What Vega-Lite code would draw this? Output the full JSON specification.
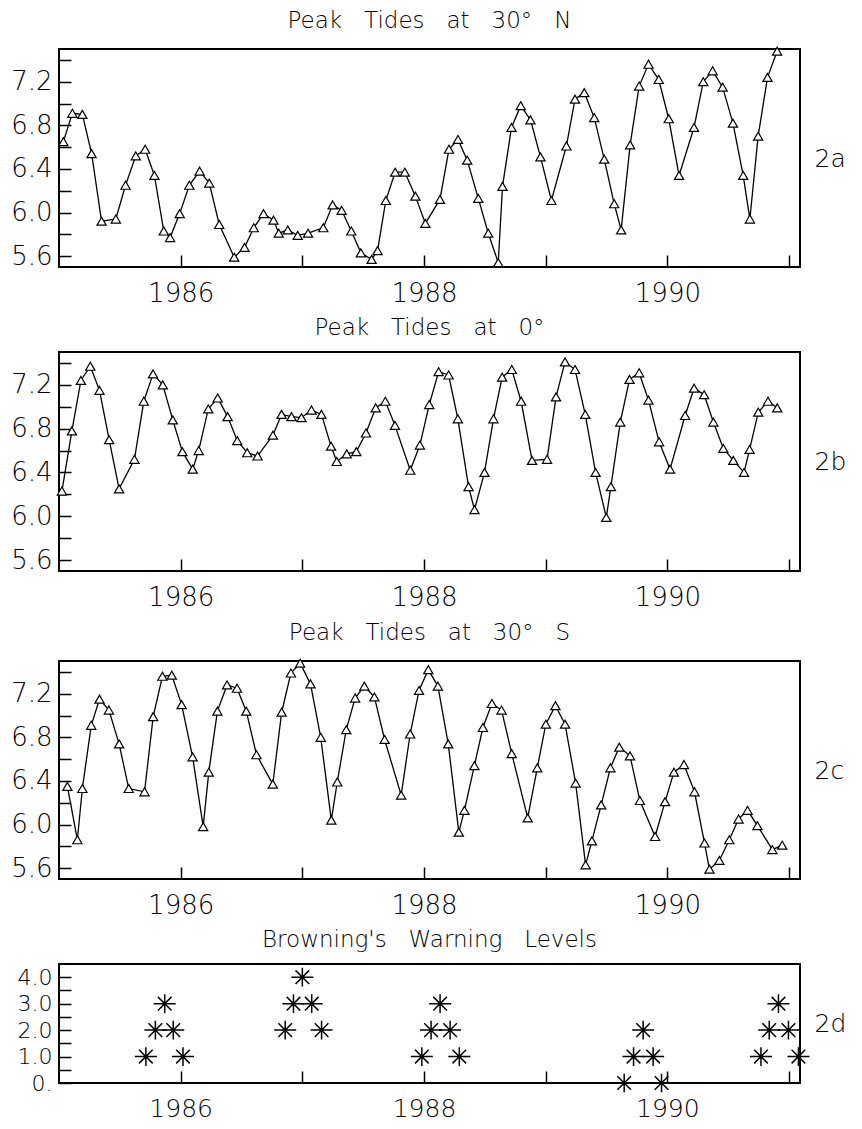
{
  "$schema": "https://vega.github.io/schema/vega-lite/v6.json",
  "background": "white",
  "padding": {"left": 9, "top": 8, "right": 4, "bottom": 2},
  "spacing": 9,
  "config": {
    "font": "DejaVu Sans",
    "view": {"stroke": "black", "strokeWidth": 2},
    "axis": {"domain": false, "grid": false, "tickColor": "black", "tickWidth": 1.5, "tickSize": -12, "labelFont": "DejaVu Sans", "labelFontSize": 26, "labelFontWeight": 200, "labelColor": "black", "titleFont": "DejaVu Sans", "titleColor": "black"},
    "title": {"font": "DejaVu Sans", "fontSize": 23, "fontWeight": 200, "color": "black", "offset": 12}
  },
  "datasets": {
    "a": [
      {"t":1985.036,"v":6.65},{"t":1985.110,"v":6.91},{"t":1985.192,"v":6.90},{"t":1985.268,"v":6.54},{"t":1985.350,"v":5.92},{"t":1985.467,"v":5.94},{"t":1985.547,"v":6.25},{"t":1985.631,"v":6.52},{"t":1985.708,"v":6.58},{"t":1985.784,"v":6.34},{"t":1985.861,"v":5.83},{"t":1985.913,"v":5.77},{"t":1985.992,"v":5.99},{"t":1986.071,"v":6.25},{"t":1986.156,"v":6.38},{"t":1986.235,"v":6.27},{"t":1986.317,"v":5.89},{"t":1986.440,"v":5.59},{"t":1986.525,"v":5.68},{"t":1986.601,"v":5.86},{"t":1986.681,"v":5.99},{"t":1986.763,"v":5.93},{"t":1986.806,"v":5.81},{"t":1986.880,"v":5.84},{"t":1986.962,"v":5.79},{"t":1987.047,"v":5.81},{"t":1987.172,"v":5.86},{"t":1987.249,"v":6.07},{"t":1987.323,"v":6.02},{"t":1987.402,"v":5.83},{"t":1987.481,"v":5.63},{"t":1987.569,"v":5.57},{"t":1987.618,"v":5.65},{"t":1987.686,"v":6.11},{"t":1987.763,"v":6.37},{"t":1987.842,"v":6.37},{"t":1987.929,"v":6.15},{"t":1988.011,"v":5.90},{"t":1988.131,"v":6.12},{"t":1988.205,"v":6.58},{"t":1988.279,"v":6.67},{"t":1988.355,"v":6.48},{"t":1988.446,"v":6.13},{"t":1988.528,"v":5.81},{"t":1988.610,"v":5.54},{"t":1988.645,"v":6.24},{"t":1988.719,"v":6.78},{"t":1988.795,"v":6.98},{"t":1988.875,"v":6.85},{"t":1988.957,"v":6.51},{"t":1989.047,"v":6.11},{"t":1989.170,"v":6.61},{"t":1989.241,"v":7.04},{"t":1989.317,"v":7.10},{"t":1989.399,"v":6.87},{"t":1989.481,"v":6.49},{"t":1989.563,"v":6.08},{"t":1989.620,"v":5.84},{"t":1989.694,"v":6.62},{"t":1989.768,"v":7.16},{"t":1989.845,"v":7.36},{"t":1989.929,"v":7.22},{"t":1990.011,"v":6.86},{"t":1990.096,"v":6.34},{"t":1990.219,"v":6.78},{"t":1990.295,"v":7.20},{"t":1990.372,"v":7.30},{"t":1990.454,"v":7.15},{"t":1990.539,"v":6.82},{"t":1990.623,"v":6.34},{"t":1990.678,"v":5.94},{"t":1990.746,"v":6.70},{"t":1990.823,"v":7.24},{"t":1990.902,"v":7.48}
    ],
    "b": [
      {"t":1985.024,"v":6.23},{"t":1985.106,"v":6.78},{"t":1985.180,"v":7.24},{"t":1985.257,"v":7.37},{"t":1985.333,"v":7.15},{"t":1985.412,"v":6.70},{"t":1985.494,"v":6.25},{"t":1985.620,"v":6.52},{"t":1985.697,"v":7.05},{"t":1985.773,"v":7.30},{"t":1985.853,"v":7.20},{"t":1985.935,"v":6.88},{"t":1986.014,"v":6.59},{"t":1986.099,"v":6.43},{"t":1986.148,"v":6.60},{"t":1986.227,"v":6.98},{"t":1986.304,"v":7.08},{"t":1986.386,"v":6.91},{"t":1986.465,"v":6.69},{"t":1986.547,"v":6.58},{"t":1986.632,"v":6.55},{"t":1986.758,"v":6.74},{"t":1986.829,"v":6.93},{"t":1986.911,"v":6.91},{"t":1986.993,"v":6.90},{"t":1987.075,"v":6.97},{"t":1987.157,"v":6.93},{"t":1987.236,"v":6.64},{"t":1987.283,"v":6.50},{"t":1987.365,"v":6.57},{"t":1987.444,"v":6.59},{"t":1987.523,"v":6.76},{"t":1987.603,"v":6.99},{"t":1987.682,"v":7.05},{"t":1987.761,"v":6.83},{"t":1987.887,"v":6.42},{"t":1987.966,"v":6.65},{"t":1988.043,"v":7.02},{"t":1988.120,"v":7.32},{"t":1988.202,"v":7.29},{"t":1988.278,"v":6.89},{"t":1988.366,"v":6.27},{"t":1988.415,"v":6.06},{"t":1988.497,"v":6.40},{"t":1988.571,"v":6.89},{"t":1988.642,"v":7.27},{"t":1988.721,"v":7.34},{"t":1988.798,"v":7.05},{"t":1988.888,"v":6.51},{"t":1989.011,"v":6.52},{"t":1989.085,"v":7.09},{"t":1989.159,"v":7.41},{"t":1989.241,"v":7.34},{"t":1989.325,"v":6.93},{"t":1989.410,"v":6.40},{"t":1989.498,"v":5.99},{"t":1989.536,"v":6.27},{"t":1989.613,"v":6.86},{"t":1989.689,"v":7.25},{"t":1989.768,"v":7.31},{"t":1989.845,"v":7.06},{"t":1989.932,"v":6.68},{"t":1990.022,"v":6.43},{"t":1990.146,"v":6.92},{"t":1990.220,"v":7.17},{"t":1990.302,"v":7.11},{"t":1990.378,"v":6.86},{"t":1990.460,"v":6.62},{"t":1990.542,"v":6.51},{"t":1990.630,"v":6.40},{"t":1990.676,"v":6.61},{"t":1990.747,"v":6.95},{"t":1990.827,"v":7.05},{"t":1990.903,"v":6.99}
    ],
    "c": [
      {"t":1985.069,"v":6.35},{"t":1985.151,"v":5.86},{"t":1985.192,"v":6.33},{"t":1985.265,"v":6.91},{"t":1985.333,"v":7.15},{"t":1985.410,"v":7.05},{"t":1985.494,"v":6.74},{"t":1985.573,"v":6.33},{"t":1985.703,"v":6.30},{"t":1985.774,"v":6.99},{"t":1985.850,"v":7.36},{"t":1985.927,"v":7.37},{"t":1986.008,"v":7.10},{"t":1986.098,"v":6.62},{"t":1986.185,"v":5.98},{"t":1986.231,"v":6.48},{"t":1986.302,"v":7.04},{"t":1986.381,"v":7.28},{"t":1986.463,"v":7.25},{"t":1986.539,"v":7.04},{"t":1986.623,"v":6.64},{"t":1986.757,"v":6.37},{"t":1986.830,"v":7.03},{"t":1986.906,"v":7.39},{"t":1986.982,"v":7.48},{"t":1987.067,"v":7.29},{"t":1987.151,"v":6.80},{"t":1987.238,"v":6.04},{"t":1987.287,"v":6.39},{"t":1987.361,"v":6.87},{"t":1987.434,"v":7.16},{"t":1987.510,"v":7.27},{"t":1987.592,"v":7.17},{"t":1987.676,"v":6.78},{"t":1987.812,"v":6.27},{"t":1987.886,"v":6.83},{"t":1987.959,"v":7.23},{"t":1988.035,"v":7.42},{"t":1988.114,"v":7.27},{"t":1988.199,"v":6.74},{"t":1988.286,"v":5.93},{"t":1988.332,"v":6.13},{"t":1988.414,"v":6.54},{"t":1988.484,"v":6.89},{"t":1988.558,"v":7.11},{"t":1988.637,"v":7.05},{"t":1988.721,"v":6.65},{"t":1988.852,"v":6.06},{"t":1988.931,"v":6.52},{"t":1989.001,"v":6.92},{"t":1989.080,"v":7.09},{"t":1989.159,"v":6.92},{"t":1989.246,"v":6.38},{"t":1989.328,"v":5.63},{"t":1989.380,"v":5.85},{"t":1989.456,"v":6.18},{"t":1989.532,"v":6.52},{"t":1989.605,"v":6.71},{"t":1989.693,"v":6.63},{"t":1989.774,"v":6.22},{"t":1989.899,"v":5.89},{"t":1989.981,"v":6.21},{"t":1990.054,"v":6.48},{"t":1990.136,"v":6.55},{"t":1990.223,"v":6.30},{"t":1990.305,"v":5.83},{"t":1990.346,"v":5.59},{"t":1990.427,"v":5.67},{"t":1990.509,"v":5.86},{"t":1990.585,"v":6.05},{"t":1990.659,"v":6.13},{"t":1990.740,"v":5.99},{"t":1990.863,"v":5.77},{"t":1990.944,"v":5.81}
    ],
    "d": [
      {"t":1985.714,"level":1},{"t":1985.792,"level":2},{"t":1985.869,"level":3},{"t":1985.939,"level":2},{"t":1986.019,"level":1},
      {"t":1986.859,"level":2},{"t":1986.927,"level":3},{"t":1987.000,"level":4},{"t":1987.077,"level":3},{"t":1987.158,"level":2},
      {"t":1987.982,"level":1},{"t":1988.058,"level":2},{"t":1988.132,"level":3},{"t":1988.214,"level":2},{"t":1988.290,"level":1},
      {"t":1989.645,"level":0},{"t":1989.722,"level":1},{"t":1989.801,"level":2},{"t":1989.883,"level":1},{"t":1989.952,"level":0},
      {"t":1990.769,"level":1},{"t":1990.837,"level":2},{"t":1990.913,"level":3},{"t":1990.995,"level":2},{"t":1991.077,"level":1}
    ]
  },
  "vconcat": [
    {
      "width": 741, "height": 218,
      "title": {"text": "Peak\u00a0\u00a0\u00a0Tides\u00a0\u00a0\u00a0at\u00a0\u00a0\u00a030°\u00a0\u00a0\u00a0N"},
      "data": {"name": "a"},
      "layer": [
        {"mark": {"type": "line", "color": "black", "strokeWidth": 1.3},
         "encoding": {
           "x": {"field": "t", "type": "quantitative", "scale": {"domain": [1985, 1991.09], "nice": false, "zero": false}, "axis": {"values": [1986, 1987, 1988, 1989, 1990, 1991], "labelExpr": "datum.value % 2 == 0 ? format(datum.value, 'd') : ''", "title": null, "labelPadding": 25}},
           "y": {"field": "v", "type": "quantitative", "scale": {"domain": [5.5, 7.5], "nice": false, "zero": false}, "axis": {"values": [5.6, 5.8, 6.0, 6.2, 6.4, 6.6, 6.8, 7.0, 7.2, 7.4], "labelExpr": "round(datum.value * 10) % 4 == 0 ? format(datum.value, '.1f') : ''", "title": null, "labelPadding": 19}}
         }},
        {"mark": {"type": "point", "shape": "triangle-up", "filled": true, "fill": "white", "stroke": "black", "strokeWidth": 1.2, "size": 85, "opacity": 1},
         "encoding": {
           "x": {"field": "t", "type": "quantitative", "axis": null},
           "y": {"field": "v", "type": "quantitative", "axis": {"orient": "right", "title": "2a", "labels": false, "ticks": false, "domain": false, "titleAngle": 0, "titleAlign": "left", "titleBaseline": "middle", "titleFontSize": 25, "titleFontWeight": 200, "titlePadding": 14}}
         }}
      ],
      "resolve": {"axis": {"x": "independent", "y": "independent"}}
    },
    {
      "width": 741, "height": 219,
      "title": {"text": "Peak\u00a0\u00a0\u00a0Tides\u00a0\u00a0\u00a0at\u00a0\u00a0\u00a00°"},
      "data": {"name": "b"},
      "layer": [
        {"mark": {"type": "line", "color": "black", "strokeWidth": 1.3},
         "encoding": {
           "x": {"field": "t", "type": "quantitative", "scale": {"domain": [1985, 1991.09], "nice": false, "zero": false}, "axis": {"values": [1986, 1987, 1988, 1989, 1990, 1991], "labelExpr": "datum.value % 2 == 0 ? format(datum.value, 'd') : ''", "title": null, "labelPadding": 25}},
           "y": {"field": "v", "type": "quantitative", "scale": {"domain": [5.5, 7.5], "nice": false, "zero": false}, "axis": {"values": [5.6, 5.8, 6.0, 6.2, 6.4, 6.6, 6.8, 7.0, 7.2, 7.4], "labelExpr": "round(datum.value * 10) % 4 == 0 ? format(datum.value, '.1f') : ''", "title": null, "labelPadding": 19}}
         }},
        {"mark": {"type": "point", "shape": "triangle-up", "filled": true, "fill": "white", "stroke": "black", "strokeWidth": 1.2, "size": 85, "opacity": 1},
         "encoding": {
           "x": {"field": "t", "type": "quantitative", "axis": null},
           "y": {"field": "v", "type": "quantitative", "axis": {"orient": "right", "title": "2b", "labels": false, "ticks": false, "domain": false, "titleAngle": 0, "titleAlign": "left", "titleBaseline": "middle", "titleFontSize": 25, "titleFontWeight": 200, "titlePadding": 14}}
         }}
      ],
      "resolve": {"axis": {"x": "independent", "y": "independent"}}
    },
    {
      "width": 741, "height": 218,
      "title": {"text": "Peak\u00a0\u00a0\u00a0Tides\u00a0\u00a0\u00a0at\u00a0\u00a0\u00a030°\u00a0\u00a0\u00a0S"},
      "data": {"name": "c"},
      "layer": [
        {"mark": {"type": "line", "color": "black", "strokeWidth": 1.3},
         "encoding": {
           "x": {"field": "t", "type": "quantitative", "scale": {"domain": [1985, 1991.09], "nice": false, "zero": false}, "axis": {"values": [1986, 1987, 1988, 1989, 1990, 1991], "labelExpr": "datum.value % 2 == 0 ? format(datum.value, 'd') : ''", "title": null, "labelPadding": 25}},
           "y": {"field": "v", "type": "quantitative", "scale": {"domain": [5.5, 7.5], "nice": false, "zero": false}, "axis": {"values": [5.6, 5.8, 6.0, 6.2, 6.4, 6.6, 6.8, 7.0, 7.2, 7.4], "labelExpr": "round(datum.value * 10) % 4 == 0 ? format(datum.value, '.1f') : ''", "title": null, "labelPadding": 19}}
         }},
        {"mark": {"type": "point", "shape": "triangle-up", "filled": true, "fill": "white", "stroke": "black", "strokeWidth": 1.2, "size": 85, "opacity": 1},
         "encoding": {
           "x": {"field": "t", "type": "quantitative", "axis": null},
           "y": {"field": "v", "type": "quantitative", "axis": {"orient": "right", "title": "2c", "labels": false, "ticks": false, "domain": false, "titleAngle": 0, "titleAlign": "left", "titleBaseline": "middle", "titleFontSize": 25, "titleFontWeight": 200, "titlePadding": 14}}
         }}
      ],
      "resolve": {"axis": {"x": "independent", "y": "independent"}}
    },
    {
      "width": 741, "height": 119,
      "title": {"text": "Browning's\u00a0\u00a0\u00a0Warning\u00a0\u00a0\u00a0Levels"},
      "data": {"name": "d"},
      "layer": [
        {"mark": {"type": "point", "shape": "M0,-0.85L0,0.85M-1,0L1,0M-0.62,-0.62L0.62,0.62M-0.62,0.62L0.62,-0.62", "filled": false, "stroke": "black", "strokeWidth": 1.5, "size": 484, "opacity": 1},
         "encoding": {
           "x": {"field": "t", "type": "quantitative", "scale": {"domain": [1985, 1991.09], "nice": false, "zero": false}, "axis": {"values": [1986, 1987, 1988, 1989, 1990, 1991], "labelExpr": "datum.value % 2 == 0 ? format(datum.value, 'd') : ''", "title": null, "labelPadding": 25, "labelFontSize": 25}},
           "y": {"field": "level", "type": "quantitative", "scale": {"domain": [0, 4.5], "nice": false, "zero": false}, "axis": {"values": [0, 0.5, 1, 1.5, 2, 2.5, 3, 3.5, 4], "labelExpr": "datum.value == 0 ? '0.' : (datum.value % 1 == 0 ? format(datum.value, '.1f') : '')", "title": null, "labelPadding": 19, "labelFontSize": 22}}
         }},
        {"mark": {"type": "point", "opacity": 0},
         "encoding": {
           "x": {"field": "t", "type": "quantitative", "axis": null},
           "y": {"field": "level", "type": "quantitative", "axis": {"orient": "right", "title": "2d", "labels": false, "ticks": false, "domain": false, "titleAngle": 0, "titleAlign": "left", "titleBaseline": "middle", "titleFontSize": 25, "titleFontWeight": 200, "titlePadding": 14}}
         }}
      ],
      "resolve": {"axis": {"x": "independent", "y": "independent"}}
    }
  ]
}
